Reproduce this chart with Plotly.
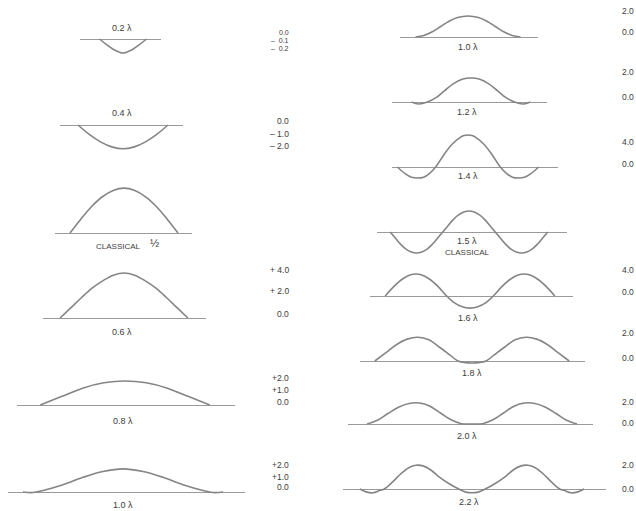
import plotly.graph_objects as go

W, H = 636, 511

# current along the antenna
# position from the feed point in wavelengths, current in the units of the side scales

# left column
x_02 = [-0.1, -0.07, -0.04, 0.0, 0.04, 0.07, 0.1]
i_02 = [0.0, -0.08, -0.15, -0.2, -0.15, -0.08, 0.0]

x_04 = [-0.2, -0.15, -0.1, -0.05, 0.0, 0.05, 0.1, 0.15, 0.2]
i_04 = [0.0, -0.75, -1.35, -1.75, -1.9, -1.75, -1.35, -0.75, 0.0]

x_05 = [-0.25, -0.2, -0.15, -0.1, -0.05, 0.0, 0.05, 0.1, 0.15, 0.2, 0.25]
i_05 = [0.0, 1.2, 2.3, 3.15, 3.7, 3.9, 3.7, 3.15, 2.3, 1.2, 0.0]

x_06 = [-0.3, -0.25, -0.2, -0.15, -0.1, -0.05, 0.0, 0.05, 0.1, 0.15, 0.2, 0.25, 0.3]
i_06 = [0.0, 0.9, 1.8, 2.65, 3.3, 3.8, 4.0, 3.8, 3.3, 2.65, 1.8, 0.9, 0.0]

x_08 = [-0.4, -0.3, -0.2, -0.1, 0.0, 0.1, 0.2, 0.3, 0.4]
i_08 = [0.0, 0.7, 1.4, 1.85, 2.0, 1.85, 1.4, 0.7, 0.0]

x_10a = [-0.5, -0.45, -0.4, -0.3, -0.2, -0.1, 0.0, 0.1, 0.2, 0.3, 0.4, 0.45, 0.5]
i_10a = [0.0, -0.05, 0.15, 0.7, 1.4, 1.95, 2.2, 1.95, 1.4, 0.7, 0.15, -0.05, 0.0]

# right column
x_10b = [-0.5, -0.42, -0.34, -0.26, -0.18, -0.1, 0.0, 0.1, 0.18, 0.26, 0.34, 0.42, 0.5]
i_10b = [0.0, 0.15, 0.5, 1.0, 1.5, 1.85, 2.0, 1.85, 1.5, 1.0, 0.5, 0.15, 0.0]

x_12 = [-0.6, -0.53, -0.44, -0.35, -0.27, -0.18, -0.09, 0.0, 0.09, 0.18, 0.27, 0.35, 0.44, 0.53, 0.6]
i_12 = [0.0, -0.15, 0.0, 0.35, 0.85, 1.4, 1.75, 1.85, 1.75, 1.4, 0.85, 0.35, 0.0, -0.15, 0.0]

x_14 = [-0.7, -0.62, -0.56, -0.5, -0.44, -0.38, -0.32, -0.24, -0.16, -0.08, -0.04, 0.0,
        0.04, 0.08, 0.16, 0.24, 0.32, 0.38, 0.44, 0.5, 0.56, 0.62, 0.7]
i_14 = [0.0, -1.3, -1.95, -2.1, -1.95, -1.2, 0.0, 2.3, 4.3, 5.6, 6.0, 6.1,
        6.0, 5.6, 4.3, 2.3, 0.0, -1.2, -1.95, -2.1, -1.95, -1.3, 0.0]

x_15 = [-0.75, -0.7, -0.65, -0.6, -0.55, -0.5, -0.45, -0.4, -0.35, -0.3, -0.25, -0.2, -0.15, -0.1, -0.05, 0.0,
        0.05, 0.1, 0.15, 0.2, 0.25, 0.3, 0.35, 0.4, 0.45, 0.5, 0.55, 0.6, 0.65, 0.7, 0.75]
i_15 = [0.0, -1.2, -2.35, -3.25, -3.8, -4.0, -3.8, -3.25, -2.35, -1.2, 0.0, 1.2, 2.35, 3.25, 3.8, 4.0,
        3.8, 3.25, 2.35, 1.2, 0.0, -1.2, -2.35, -3.25, -3.8, -4.0, -3.8, -3.25, -2.35, -1.2, 0.0]

x_16 = [-0.8, -0.72, -0.64, -0.56, -0.51, -0.46, -0.38, -0.3, -0.22, -0.15, -0.08, 0.0,
        0.08, 0.15, 0.22, 0.3, 0.38, 0.46, 0.51, 0.56, 0.64, 0.72, 0.8]
i_16 = [0.0, 1.7, 3.05, 3.85, 4.0, 3.85, 3.05, 1.7, 0.0, -1.2, -1.9, -2.2,
        -1.9, -1.2, 0.0, 1.7, 3.05, 3.85, 4.0, 3.85, 3.05, 1.7, 0.0]

x_18 = [-0.9, -0.8, -0.7, -0.6, -0.5, -0.4, -0.3, -0.2, -0.13, -0.06, 0.0,
        0.06, 0.13, 0.2, 0.3, 0.4, 0.5, 0.6, 0.7, 0.8, 0.9]
i_18 = [0.0, 0.65, 1.3, 1.75, 1.9, 1.7, 1.1, 0.45, 0.0, -0.13, -0.16,
        -0.13, 0.0, 0.45, 1.1, 1.7, 1.9, 1.75, 1.3, 0.65, 0.0]

x_20 = [-1.0, -0.9, -0.8, -0.7, -0.6, -0.5, -0.4, -0.3, -0.2, -0.1, 0.0,
        0.1, 0.2, 0.3, 0.4, 0.5, 0.6, 0.7, 0.8, 0.9, 1.0]
i_20 = [0.0, 0.35, 1.0, 1.6, 1.95, 2.0, 1.7, 1.05, 0.4, 0.03, 0.0,
        0.03, 0.4, 1.05, 1.7, 2.0, 1.95, 1.6, 1.0, 0.35, 0.0]

x_22 = [-1.1, -1.03, -0.97, -0.9, -0.86, -0.78, -0.7, -0.62, -0.55, -0.48, -0.4, -0.32, -0.22, -0.13, -0.06, 0.0,
        0.06, 0.13, 0.22, 0.32, 0.4, 0.48, 0.55, 0.62, 0.7, 0.78, 0.86, 0.9, 0.97, 1.03, 1.1]
i_22 = [0.0, -0.25, -0.3, -0.1, 0.0, 0.55, 1.2, 1.7, 1.9, 1.85, 1.5, 0.95, 0.4, 0.0, -0.25, -0.3,
        -0.25, 0.0, 0.4, 0.95, 1.5, 1.85, 1.9, 1.7, 1.2, 0.55, 0.0, -0.1, -0.3, -0.25, 0.0]

# panel captions and side scales
captions = ["0.2 λ", "0.4 λ", "CLASSICAL", "0.6 λ", "0.8 λ", "1.0 λ",
            "1.0 λ", "1.2 λ", "1.4 λ", "1.5 λ", "1.6 λ", "1.8 λ", "2.0 λ", "2.2 λ"]
left_scales = [["0.0", "–  0.1", "–  0.2"], ["0.0", "– 1.0", "– 2.0"], [],
               ["+ 4.0", "+ 2.0", "0.0"], ["+2.0", "+1.0", "0.0"], ["+2.0", "+1.0", "0.0"]]
right_scales = [["2.0", "0.0"], ["2.0", "0.0"], ["4.0", "0.0"], [],
                ["4.0", "0.0"], ["2.0", "0.0"], ["2.0", "0.0"], ["2.0", "0.0"]]

curves = [(x_02, i_02), (x_04, i_04), (x_05, i_05), (x_06, i_06), (x_08, i_08), (x_10a, i_10a),
          (x_10b, i_10b), (x_12, i_12), (x_14, i_14), (x_15, i_15), (x_16, i_16),
          (x_18, i_18), (x_20, i_20), (x_22, i_22)]

# where each panel sits on the page (pixels):
# baseline left/right, feed point x, baseline y, px per wavelength, px per current unit
geom = [
    (80, 161, 123, 39, 235, 70), (60, 183, 123, 125, 225, 12.5), (55, 192, 124, 233, 216, 11.5),
    (43, 206, 124, 318, 213, 11.25), (17, 235, 125, 405, 212, 12), (8, 245, 123, 492, 200, 10.5),
    (400, 538, 468, 37, 105, 10.5), (392, 547, 471, 102, 99, 13), (392, 558, 468, 167, 101, 5.25),
    (377, 567, 469, 232, 105, 5.25), (370, 573, 470, 296, 106, 5.5), (360, 585, 472, 361, 108, 12.5),
    (348, 593, 472, 424, 105, 10.5), (343, 606, 472, 489, 102, 12.5),
]
caption_pos = [(122, 28), (122, 113), (119, 246), (122, 332), (123, 421), (123, 505),
               (468, 47), (467, 112), (468, 176), (467, 241), (468, 318), (472, 373), (467, 436), (469, 502)]
left_scale_y = [[32, 40, 48], [121, 134, 146], [], [270, 291, 314], [378, 390, 402], [465, 477, 487]]
right_scale_y = [[11, 32], [72, 97], [142, 164], [], [270, 292], [333, 358], [402, 423], [465, 489]]

CURVE = "#858585"
BASE = "#9a9a9a"
TEXT = "#3c3c3c"
FONT = "Liberation Sans"


def note(px, py, text, size=9, xanchor="center"):
    # text placed in page pixels; anchors spelled out so plotly's 'auto' does not shift it
    return dict(x=px / W, y=1 - py / H, text=text, showarrow=False, xref="paper", yref="paper",
                xanchor=xanchor, yanchor="middle", font=dict(family=FONT, size=size, color=TEXT))


fig = go.Figure()
layout = {}
for n, ((xs, ys), (x0, x1, xc, yb, k, u)) in enumerate(zip(curves, geom), start=1):
    sfx = "" if n == 1 else str(n)
    fig.add_trace(go.Scatter(x=xs, y=ys, mode="lines", line=dict(color=CURVE, width=1.6, shape="spline"),
                             xaxis="x" + sfx, yaxis="y" + sfx, hoverinfo="skip", showlegend=False))
    above = min(50, yb - 1)
    below = min(30, H - yb - 1)
    layout["xaxis" + sfx] = dict(domain=[x0 / W, x1 / W], range=[(x0 - xc) / k, (x1 - xc) / k],
                                 visible=False, anchor="y" + sfx)
    # the zero line of the current axis is the antenna baseline
    layout["yaxis" + sfx] = dict(domain=[1 - (yb + below) / H, 1 - (yb - above) / H],
                                 range=[-below / u, above / u], anchor="x" + sfx,
                                 showgrid=False, showticklabels=False, ticks="", showline=False,
                                 zeroline=True, zerolinecolor=BASE, zerolinewidth=1.3)

fig.update_layout(**layout)

ann = [note(px, py, text, size=8 if text == "CLASSICAL" else 9) for text, (px, py) in zip(captions, caption_pos)]
# second line under the 1.5 wave and the little "1/2" tag beside the classical half wave
ann.append(note(467, 253, "CLASSICAL", size=8))
ann.append(note(154, 243, "½", size=11))
for labels, ys in zip(left_scales, left_scale_y):
    for text, py in zip(labels, ys):
        ann.append(note(291, py, text, size=7 if py < 60 else 8.5, xanchor="right"))
for labels, ys in zip(right_scales, right_scale_y):
    for text, py in zip(labels, ys):
        ann.append(note(620, py, text, size=8.5, xanchor="left"))

fig.update_layout(width=W, height=H, margin=dict(l=0, r=0, t=0, b=0),
                  paper_bgcolor="white", plot_bgcolor="rgba(0,0,0,0)", annotations=ann)

# drop the browser's default page margin so the figure sits at the window corner
fig.write_html("out.html", config={"displayModeBar": False},
               post_script="document.body.style.margin='0';")
